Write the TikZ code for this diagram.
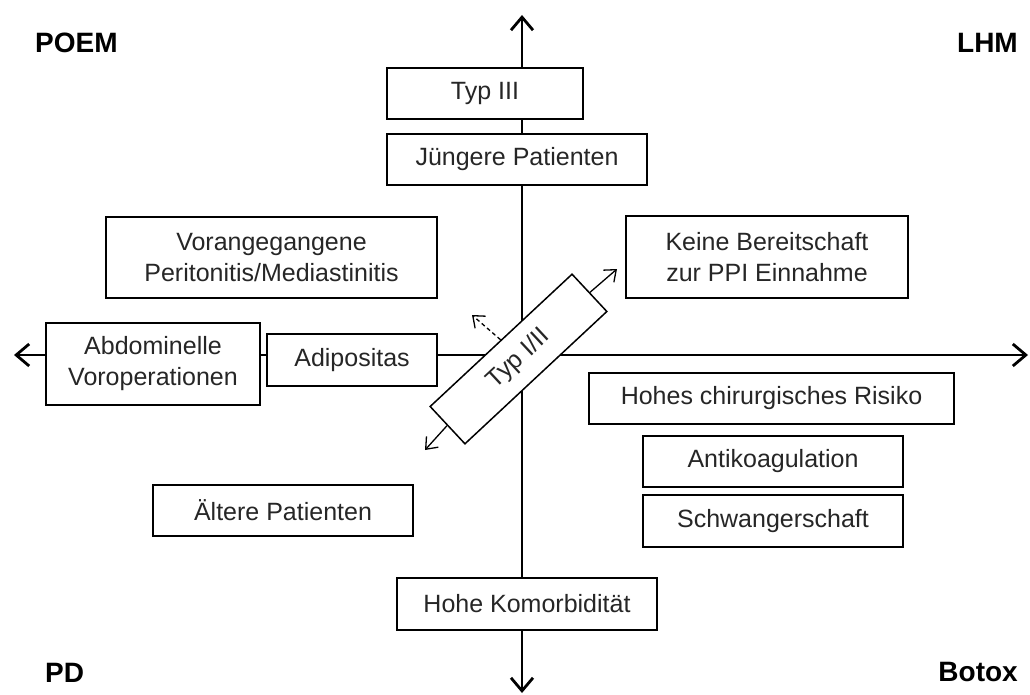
\documentclass[tikz,border=0pt]{standalone}
\usepackage{fontspec}
\setmainfont{Liberation Sans}
\usetikzlibrary{arrows.meta}
\tikzset{
  box/.style={draw=black, line width=1.5pt, fill=white, inner sep=0pt, align=center,
    font=\fontsize{25}{31}\selectfont, text=black!85},
  corner/.style={font=\fontsize{28}{32}\selectfont\bfseries, inner sep=0pt},
  axis/.style={line width=2.8pt, {Straight Barb[length=13pt,width=22pt,line width=2.8pt]}-{Straight Barb[length=13pt,width=22pt,line width=2.8pt]}},
  thinarrow/.style={line width=1.3pt, -{Straight Barb[length=10pt,width=16pt,line width=1.3pt]}},
}
\begin{document}
\begin{tikzpicture}[x=1pt,y=-1pt]
\useasboundingbox (0,0) rectangle (1030,695);
\fill[white] (0,0) rectangle (1030,695);
% axis end points
\coordinate (ttip) at (522,15);
\coordinate (btip) at (522,693);
\coordinate (ltip) at (14,355);
\coordinate (rtip) at (1028,355);
\draw[axis] (ltip) -- (rtip);
\draw[axis] (ttip) -- (btip);
% boxes
\node[box, minimum width=196pt, minimum height=51pt] (typ3) at (485,93.5) {Typ III};
\node[box, minimum width=260pt, minimum height=51pt] (jung) at (517,159.5) {Jüngere Patienten};
\node[box, minimum width=331pt, minimum height=81pt] (vor) at (271.5,257.5) {Vorangegangene\\Peritonitis/Mediastinitis};
\node[box, minimum width=282pt, minimum height=82pt] (keine) at (767,257) {Keine Bereitschaft\\zur PPI Einnahme};
\node[box, minimum width=214pt, minimum height=82pt] (abd) at (153,364) {Abdominelle\\Voroperationen};
\node[box, minimum width=170pt, minimum height=52pt] (adi) at (352,360) {Adipositas};
\node[box, minimum width=365pt, minimum height=51pt] (hohes) at (771.5,398.5) {Hohes chirurgisches Risiko};
\node[box, minimum width=260pt, minimum height=51pt] (anti) at (773,461.5) {Antikoagulation};
\node[box, minimum width=260pt, minimum height=52pt] (schw) at (773,521) {Schwangerschaft};
\node[box, minimum width=260pt, minimum height=51pt] (alt) at (283,510.5) {Ältere Patienten};
\node[box, minimum width=260pt, minimum height=52pt] (komor) at (527,604) {Hohe Komorbidität};
\node[box, minimum width=194pt, minimum height=51pt, rotate=43] (typ12) at (518.5,359) {Typ I/II};
% arrows from Typ I/II
\coordinate (urtip) at (617,269);
\coordinate (lltip) at (425,450);
\coordinate (dtip) at (472,315);
\draw[thinarrow] (typ12.east) -- (urtip);
\draw[thinarrow] (typ12.west) -- (lltip);
\draw[thinarrow, dashed, dash pattern=on 4pt off 3pt] (typ12.north) -- (dtip);
% corner labels
\node[corner, anchor=base west] (poem) at (35,53) {POEM};
\node[corner, anchor=base east] (lhm) at (1018,53) {LHM};
\node[corner, anchor=base west] (pd) at (45,682) {PD};
\node[corner, anchor=base east] (botox) at (1018,681) {Botox};
\end{tikzpicture}
\end{document}
